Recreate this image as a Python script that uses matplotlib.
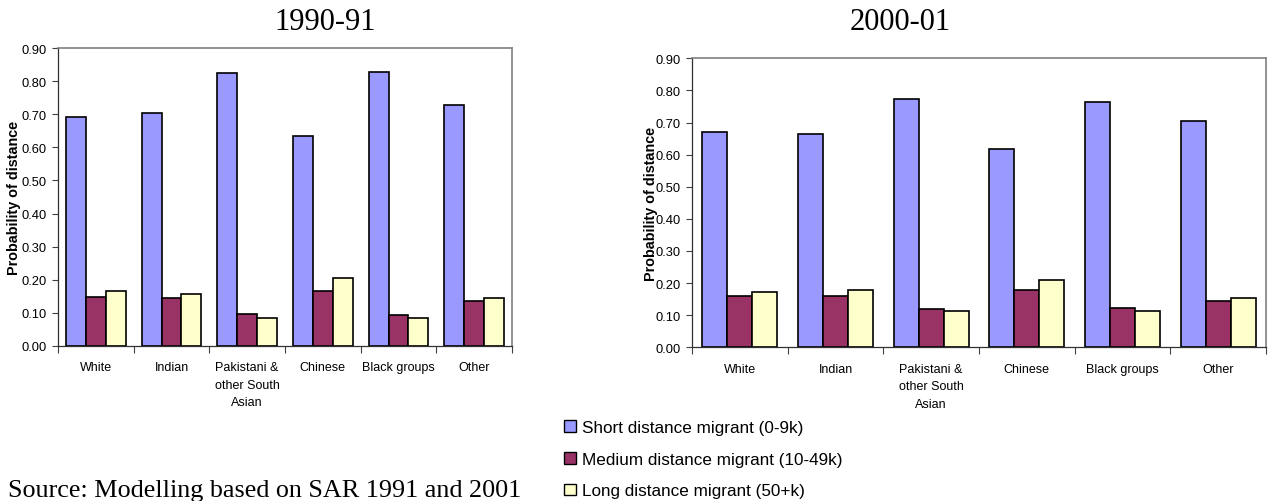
import matplotlib
matplotlib.use("Agg")
import matplotlib.pyplot as plt
import numpy as np

# Ethnic groups and migration-distance probabilities
groups = ["White", "Indian", "Pakistani &\nother South\nAsian", "Chinese", "Black groups", "Other"]
series_names = ["Short distance migrant (0-9k)",
                "Medium distance migrant (10-49k)",
                "Long distance migrant (50+k)"]

short_1991 = [0.691, 0.703, 0.825, 0.635, 0.827, 0.727]
medium_1991 = [0.147, 0.145, 0.095, 0.165, 0.093, 0.136]
long_1991 = [0.165, 0.156, 0.085, 0.205, 0.085, 0.145]

short_2001 = [0.670, 0.664, 0.773, 0.616, 0.765, 0.704]
medium_2001 = [0.159, 0.161, 0.118, 0.179, 0.121, 0.145]
long_2001 = [0.173, 0.179, 0.112, 0.210, 0.114, 0.153]

yticks = [0.0, 0.1, 0.2, 0.3, 0.4, 0.5, 0.6, 0.7, 0.8, 0.9]
colors = ["#9999FF", "#993366", "#FFFFCC"]

SANS = ["Liberation Sans", "DejaVu Sans"]
SERIF = ["Liberation Serif", "DejaVu Serif"]

W, H = 1268, 502
fig = plt.figure(figsize=(W / 100, H / 100), dpi=100)


def px_axes(x0, x1, y_top, y_bot):
    return fig.add_axes([x0 / W, 1 - y_bot / H, (x1 - x0) / W, (y_bot - y_top) / H])


def draw_panel(ax, data, ylabel_x):
    x = np.arange(len(groups))
    width = 0.262
    bars = []
    for i, (vals, col) in enumerate(zip(data, colors)):
        b = ax.bar(x + (i - 1) * width, vals, width, color=col,
                   edgecolor="black", linewidth=1.2, label=series_names[i])
        bars.append(b)
    ax.set_xlim(-0.5, len(groups) - 0.5)
    ax.set_ylim(0, 0.9)
    ax.set_yticks(yticks)
    ax.set_yticklabels([f"{v:.2f}" for v in yticks], fontsize=9.3, family=SANS)
    # boundary ticks between categories, labels at centres
    ax.set_xticks(np.arange(len(groups) + 1) - 0.5)
    ax.set_xticklabels([])
    ax.set_xticks(x, minor=True)
    ax.set_xticklabels(groups, minor=True, fontsize=9, family=SANS,
                       linespacing=1.62, va="top")
    ax.tick_params(axis="x", which="minor", length=0, pad=11)
    ax.tick_params(axis="x", which="major", length=5, width=0.8, color="#404040")
    ax.tick_params(axis="y", length=4, width=0.8, color="#404040", pad=4)
    ax.set_ylabel("Probability of distance", fontsize=10.4, fontweight="bold",
                  family=SANS)
    ax.yaxis.set_label_coords(ylabel_x, 0.5)
    for s in ("top", "right"):
        ax.spines[s].set_color("#808080")
        ax.spines[s].set_linewidth(1.2)
    for s in ("left", "bottom"):
        ax.spines[s].set_color("#303030")
        ax.spines[s].set_linewidth(0.9)
    return bars


ax1 = px_axes(58, 512, 49.3, 346.7)
ax2 = px_axes(692, 1266, 59.3, 348.3)
bars = draw_panel(ax1, [short_1991, medium_1991, long_1991], (21 - 58) / 454)
draw_panel(ax2, [short_2001, medium_2001, long_2001], (658 - 692) / 574)

fig.text(325 / W, 1 - 22 / H, "1990-91", ha="center", va="center",
         fontsize=22, family=SERIF)
fig.text(900 / W, 1 - 22 / H, "2000-01", ha="center", va="center",
         fontsize=22, family=SERIF)

fig.text(8 / W, 1 - 497 / H, "Source: Modelling based on SAR 1991 and 2001",
         ha="left", va="baseline", fontsize=18.8, family=SERIF)

leg = fig.legend(handles=bars, labels=series_names, loc="upper left",
                 bbox_to_anchor=(564 / W, 1 - 421 / H), frameon=False,
                 prop={"family": SANS, "size": 12.3},
                 handlelength=0.7, handleheight=0.7, handletextpad=0.35,
                 labelspacing=0.98, borderpad=0, borderaxespad=0)
for h in leg.legend_handles:
    h.set_linewidth(1.0)

fig.savefig("out.png", dpi=100)
